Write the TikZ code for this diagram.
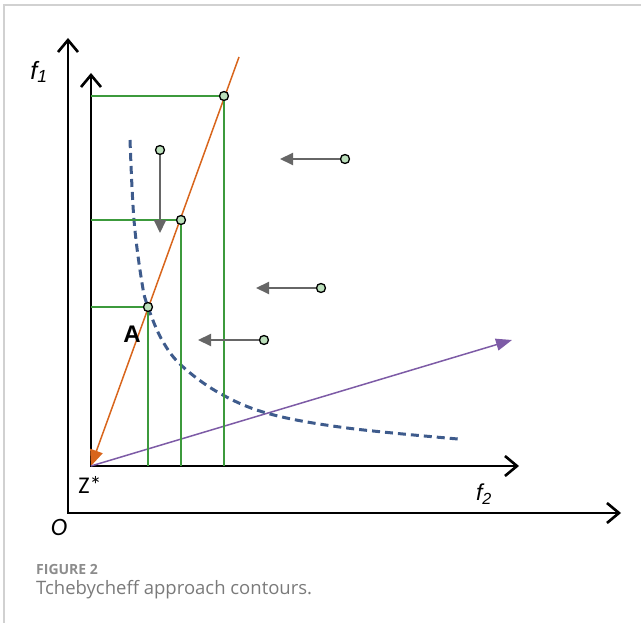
\documentclass[tikz,border=0pt]{standalone}
\usepackage{fontspec}
\setmainfont{Liberation Sans}
\newfontfamily\capfont{Open Sans}
\newfontfamily\calfont{Carlito}
\usetikzlibrary{arrows.meta}
\definecolor{ornge}{HTML}{D8651C}
\definecolor{purp}{HTML}{7D5BA6}
\definecolor{grn}{HTML}{3C9A3C}
\definecolor{dotg}{HTML}{BCE0BC}
\definecolor{dblue}{HTML}{3E5B8C}
\definecolor{arrg}{HTML}{666666}

\begin{document}
\begin{tikzpicture}[x=1pt,y=-1pt,>=Latex,
  barb/.tip={Straight Barb[length=12pt,width=20pt,line width=2.6pt]},
  axis/.style={line width=2.8pt,barb-barb},
  dot/.style={circle,draw,line width=1.3pt,fill=dotg,inner sep=0pt,minimum size=9pt},
  proj/.style={grn,line width=1.5pt},
  move/.style={arrg,line width=2pt,-{Triangle[length=13pt,width=12pt]}},
  lab/.style={inner sep=0pt,font=\itshape\fontsize{23}{26}\selectfont}]
\useasboundingbox (0,0) rectangle (641,623);
\draw[black!18,line width=1.5pt] (4,623)--(4,5)--(641,5);
% axes
\coordinate (o) at (68,513);\coordinate (oy) at (68,38);\coordinate (ox) at (621,513);
\coordinate (z) at (91,466);\coordinate (zy) at (91,73);\coordinate (zx) at (519,466);
\draw[axis] (oy)--(o)--(ox);\draw[axis] (zy)--(z)--(zx);
% directions
\coordinate (ot) at (239,57);\coordinate (pt) at (512,340);
\draw[ornge,line width=1.5pt,-{Triangle[length=16pt,width=13pt]}] (ot)--(z);
\draw[purp,line width=1.5pt,-{Triangle[length=16pt,width=12pt]}] (z)--(pt);
% contour
\draw[dblue,line width=3pt,dash pattern=on 8pt off 5pt] plot[smooth,tension=.6] coordinates {(130,140) (134,220) (142,283) (148,307) (162,340) (182,366) (221,394) (270,414) (347,428) (458,439)};
% points on the line
\node[dot] (p1) at (224,96) {};\node[dot] (p2) at (181,220) {};\node[dot] (pa) at (148,307) {};
\draw[proj] (p1)--(p1-|z);\draw[proj] (p1)--(p1|-z);
\draw[proj] (p2)--(p2-|z);\draw[proj] (p2)--(p2|-z);
\draw[proj] (pa)--(pa-|z);\draw[proj] (pa)--(pa|-z);
% moves
\node[dot] (m1) at (160,150) {};\coordinate (e1) at (160,233);
\node[dot] (m2) at (345,159) {};\coordinate (e2) at (280,159);
\node[dot] (m3) at (321,288) {};\coordinate (e3) at (256,288);
\node[dot] (m4) at (264,340) {};\coordinate (e4) at (198,340);
\draw[move] (m1)--(e1);\draw[move] (m2)--(e2);\draw[move] (m3)--(e3);\draw[move] (m4)--(e4);
% labels
\node[lab,font=\itshape\fontsize{25}{28}\selectfont] (f1) at (39,72) {f\textsubscript{1}};\node[lab] (f2) at (484,494) {f\textsubscript{2}};
\node[inner sep=0pt,font=\bfseries\fontsize{24}{28}\selectfont] (la) at (132,334) {A};
\node[inner sep=0pt,font=\calfont\fontsize{24}{28}\selectfont] (lz) at (90,485) {Z*};
\node[inner sep=0pt,font=\calfont\itshape\fontsize{25}{28}\selectfont] (lo) at (59,527) {O};
% caption
\node[anchor=base west,inner sep=0pt,text=black!45,font=\capfont\bfseries\fontsize{14}{16}\selectfont] (cap1) at (36,574) {FIGURE 2};
\node[anchor=base west,inner sep=0pt,text=black!52,font=\capfont\fontsize{18.5}{20}\selectfont] (cap2) at (36,594) {Tchebycheff approach contours.};
\end{tikzpicture}
\end{document}
